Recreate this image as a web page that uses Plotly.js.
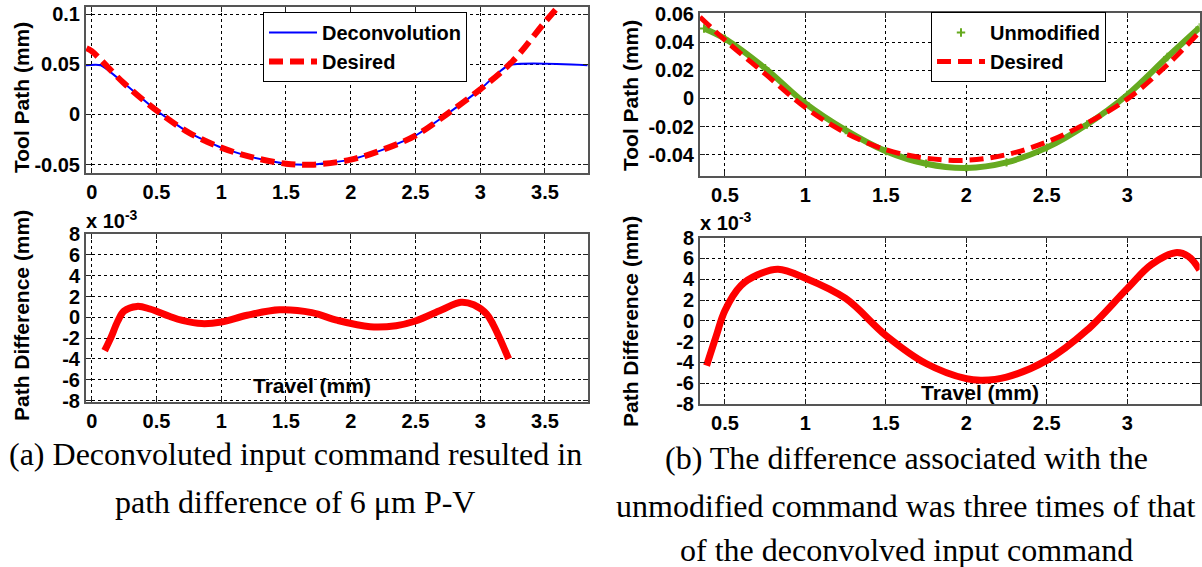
<!DOCTYPE html>
<html>
<head>
<meta charset="utf-8">
<script src="https://cdn.plot.ly/plotly-3.0.1.min.js"></script>
<style>html,body{margin:0;padding:0;background:#fff;}#chart{width:1202px;height:567px;}</style>
</head>
<body>
<div id="chart"></div>
<script>
// ---------- DATA ----------
// (a) top: tool path (mm)
const travelDesiredA = [-0.04, 0, 0.25, 0.5, 0.75, 1.0, 1.25, 1.5, 1.7, 2.0, 2.25, 2.5, 2.75, 3.0, 3.25, 3.5, 3.62];
const desiredA       = [0.066, 0.063, 0.031, 0.004, -0.018, -0.033, -0.043, -0.049, -0.050, -0.045, -0.035, -0.021, 0.001, 0.025, 0.053, 0.092, 0.110];
const travelDeconv   = [-0.044, 0.07, 0.25, 0.5, 0.75, 1.0, 1.25, 1.5, 1.7, 2.0, 2.25, 2.5, 2.75, 3.0, 3.22, 3.83];
const deconvolution  = [0.049, 0.049, 0.031, 0.004, -0.018, -0.033, -0.043, -0.049, -0.050, -0.045, -0.035, -0.021, 0.001, 0.025, 0.049, 0.049];
// (a) bottom: path difference (x 10^-3 mm)
const travelDiffA = [0.1, 0.15, 0.2, 0.25, 0.35, 0.45, 0.6, 0.7, 0.85, 1.0, 1.2, 1.45, 1.7, 1.9, 2.15, 2.35, 2.5, 2.7, 2.85, 2.95, 3.05, 3.1, 3.15, 3.22];
const pathDiffA   = [-3.2, -1.9, -0.4, 0.6, 1.05, 0.8, 0.1, -0.3, -0.6, -0.45, 0.2, 0.72, 0.45, -0.3, -0.9, -0.8, -0.35, 0.7, 1.45, 1.2, 0.3, -0.7, -2.0, -4.0];
// (b) top: tool path (mm)
const travelDesiredB = [0.345, 0.5, 0.75, 1.0, 1.25, 1.5, 1.75, 2.0, 2.25, 2.5, 2.75, 3.0, 3.25, 3.45];
const desiredB       = [0.058, 0.0415, 0.0175, -0.0065, -0.0245, -0.0365, -0.0425, -0.0440, -0.0400, -0.0310, -0.0175, -0.0005, 0.0240, 0.0474];
const travelUnmod    = [0.37, 0.5, 0.75, 1.0, 1.25, 1.5, 1.75, 2.0, 2.25, 2.5, 2.75, 3.0, 3.25, 3.45];
const unmodified     = [0.0498, 0.0425, 0.0215, -0.0035, -0.0225, -0.0375, -0.0465, -0.0495, -0.0455, -0.0350, -0.0185, 0.0025, 0.0295, 0.0505];
// (b) bottom: path difference (x 10^-3 mm)
const travelDiffB = [0.386, 0.445, 0.5, 0.6, 0.7, 0.83, 1.0, 1.25, 1.5, 1.75, 2.0, 2.1, 2.25, 2.5, 2.75, 3.0, 3.15, 3.3, 3.38, 3.45];
const pathDiffB   = [-4.3, -1.5, 1.0, 3.4, 4.4, 4.95, 4.1, 2.15, -1.4, -4.1, -5.56, -5.7, -5.4, -3.8, -0.9, 3.1, 5.4, 6.55, 6.2, 4.9];

// tick labels
const xTicksA = [0, 0.5, 1, 1.5, 2, 2.5, 3, 3.5];
const xTickTextA = ['0', '0.5', '1', '1.5', '2', '2.5', '3', '3.5'];
const xTicksB = [0.5, 1, 1.5, 2, 2.5, 3];
const xTickTextB = ['0.5', '1', '1.5', '2', '2.5', '3'];
const yTicksPathA = [-0.05, 0, 0.05, 0.1];
const yTickTextPathA = ['-0.05', '0', '0.05', '0.1'];
const yTicksPathB = [-0.04, -0.02, 0, 0.02, 0.04, 0.06];
const yTickTextPathB = ['-0.04', '-0.02', '0', '0.02', '0.04', '0.06'];
const yTicksDiff = [-8, -6, -4, -2, 0, 2, 4, 6, 8];
const yTickTextDiff = ['-8', '-6', '-4', '-2', '0', '2', '4', '6', '8'];

const captionA = ['(a) Deconvoluted input command resulted in', 'path difference of 6 \u03bcm P-V'];
const captionB = ['(b) The difference associated with the', 'unmodified command was three times of that', 'of the deconvolved input command'];

// ---------- STYLE ----------
const W = 1202, H = 567;
const SANS = 'Liberation Sans, Arial, sans-serif';
const SERIF = 'Liberation Serif, Times New Roman, serif';
const px = v => v / W;
const py = v => 1 - v / H;

function axis(domain, range, vals, text, anchor) {
  return {
    domain: domain, range: range, anchor: anchor,
    tickmode: 'array', tickvals: vals, ticktext: text,
    showline: true, linecolor: '#555', linewidth: 2, mirror: 'ticks',
    ticks: 'inside', ticklen: 5, tickcolor: '#222', tickwidth: 1,
    showgrid: true, gridcolor: '#000', gridwidth: 1, griddash: '3px,3px',
    zeroline: false, fixedrange: true,
    tickfont: {family: SANS, size: 20, weight: 'bold', color: '#000'}
  };
}

const traces = [
  {x: travelDeconv, y: deconvolution, xaxis: 'x', yaxis: 'y', mode: 'lines', name: 'Deconvolution',
   line: {color: '#0000ff', width: 2, shape: 'spline', smoothing: 0.5}, legend: 'legend'},
  {x: travelDesiredA, y: desiredA, xaxis: 'x', yaxis: 'y', mode: 'lines', name: 'Desired',
   line: {color: '#ff0000', width: 6, dash: '14px,7px', shape: 'spline'}, legend: 'legend'},
  {x: travelDiffA, y: pathDiffA, xaxis: 'x2', yaxis: 'y2', mode: 'lines', showlegend: false,
   line: {color: '#ff0000', width: 7, shape: 'spline'}},
  {x: travelUnmod, y: unmodified, xaxis: 'x3', yaxis: 'y3', mode: 'lines', showlegend: false,
   line: {color: '#66aa1f', width: 6, shape: 'spline'}},
  {x: travelUnmod, y: unmodified, xaxis: 'x3', yaxis: 'y3', mode: 'markers', name: 'Unmodified',
   marker: {symbol: 'cross-thin', size: 6, line: {color: '#66aa1f', width: 2}, color: '#66aa1f'}, legend: 'legend2'},
  {x: travelDesiredB, y: desiredB, xaxis: 'x3', yaxis: 'y3', mode: 'lines', name: 'Desired',
   line: {color: '#ff0000', width: 5, dash: '14px,7px', shape: 'spline'}, legend: 'legend2'},
  {x: travelDiffB, y: pathDiffB, xaxis: 'x4', yaxis: 'y4', mode: 'lines', showlegend: false,
   line: {color: '#ff0000', width: 7, shape: 'spline'}}
];

const leftDom = [px(86), px(587.7)];
const rightDom = [px(700), px(1199.6)];

const ann = [];
function label(text, x, y, opts) {
  ann.push(Object.assign({text: text, x: px(x), y: py(y), xref: 'paper', yref: 'paper', showarrow: false,
    xanchor: 'center', yanchor: 'middle',
    font: {family: SANS, size: 21, weight: 'bold', color: '#000'}}, opts || {}));
}
label('Tool Path (mm)', 21, 98, {textangle: -90});
label('Path Difference (mm)', 21, 316, {textangle: -90});
label('Tool Path (mm)', 630, 96, {textangle: -90});
label('Path Difference (mm)', 630, 322, {textangle: -90});
label('Travel (mm)', 312, 385);
label('Travel (mm)', 980, 392);
label('x 10<sup>-3</sup>', 84, 234, {xanchor: 'left', yanchor: 'bottom', font: {family: SANS, size: 20, weight: 'bold', color: '#000'}});
label('x 10<sup>-3</sup>', 698, 236, {xanchor: 'left', yanchor: 'bottom', font: {family: SANS, size: 20, weight: 'bold', color: '#000'}});
const capFont = {family: SERIF, size: 32, color: '#000'};
const capAY = [454, 502];
captionA.forEach((t, i) => label(t, 295, capAY[i], {font: capFont}));
const capBY = [458, 506, 550];
captionB.forEach((t, i) => label(t, 906, capBY[i], {font: capFont}));

const legendStyle = (x, y) => ({
  x: px(x), y: py(y), xref: 'paper', yref: 'paper', xanchor: 'left', yanchor: 'top',
  bgcolor: '#fff', bordercolor: '#000', borderwidth: 1, itemwidth: 48, tracegroupgap: 0,
  font: {family: SANS, size: 20, weight: 'bold', color: '#000'}
});

const layout = {
  width: W, height: H, margin: {l: 0, r: 0, t: 0, b: 0},
  paper_bgcolor: '#fff', plot_bgcolor: '#fff', showlegend: true,
  xaxis: axis(leftDom, [-0.044, 3.83], xTicksA, xTickTextA, 'y'),
  yaxis: axis([py(172.7), py(6.7)], [-0.058, 0.1073], yTicksPathA, yTickTextPathA, 'x'),
  xaxis2: axis(leftDom, [-0.044, 3.83], xTicksA, xTickTextA, 'y2'),
  yaxis2: axis([py(401.7), py(234)], [-8.1, 8], yTicksDiff, yTickTextDiff, 'x2'),
  xaxis3: axis(rightDom, [0.345, 3.45], xTicksB, xTickTextB, 'y3'),
  yaxis3: axis([py(176), py(13.3)], [-0.0552, 0.0606], yTicksPathB, yTickTextPathB, 'x3'),
  xaxis4: axis(rightDom, [0.345, 3.45], xTicksB, xTickTextB, 'y4'),
  yaxis4: axis([py(404.1), py(237.6)], [-8, 8], yTicksDiff, yTickTextDiff, 'x4'),
  legend: legendStyle(263, 12),
  legend2: legendStyle(931, 12),
  annotations: ann
};

Plotly.newPlot('chart', traces, layout, {displayModeBar: false, staticPlot: true});
</script>
</body>
</html>
